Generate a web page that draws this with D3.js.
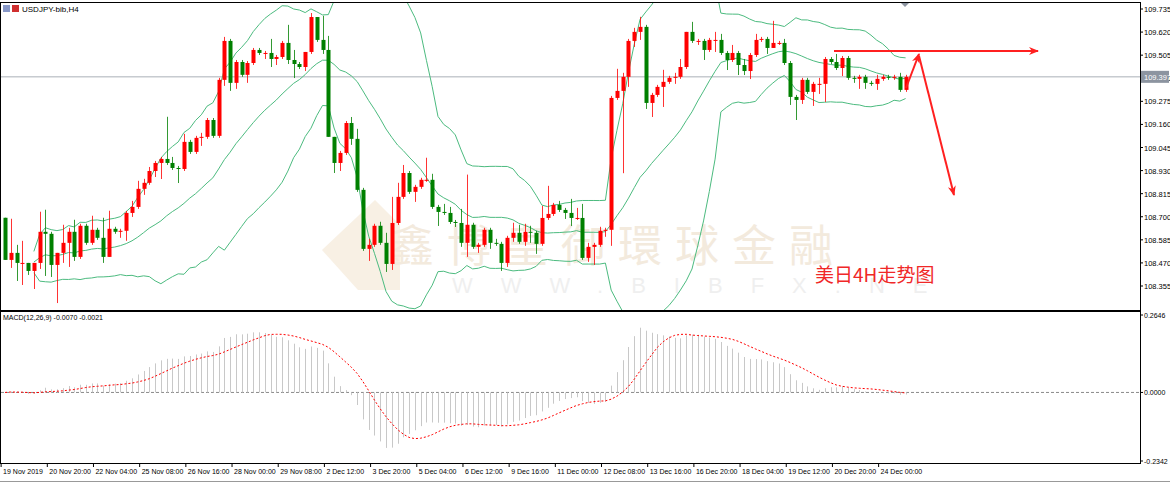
<!DOCTYPE html>
<html>
<head>
<meta charset="utf-8">
<script src="https://cdn.jsdelivr.net/npm/d3@7"></script>
<style>
  body { margin: 0; background: #fff; }
  svg { display: block; font-family: "Liberation Sans", Arial, sans-serif; }
</style>
</head>
<body>
<svg id="chart" width="1170" height="485"></svg>
<script>
// USDJPY H4 closes, first open, wick lengths (pips)
const firstOpen = 108.695;
const closes = [108.485,108.520,108.470,108.470,108.430,108.470,108.625,108.615,108.460,108.520,
  108.570,108.625,108.500,108.655,108.570,108.635,108.595,108.500,108.640,108.625,
  108.630,108.719,108.749,108.839,108.869,108.928,108.968,108.988,108.968,108.943,
  108.938,109.073,109.023,109.093,109.098,109.182,109.103,109.382,109.576,109.367,
  109.471,109.407,109.466,109.531,109.516,109.516,109.486,109.496,109.566,109.481,
  109.461,109.446,109.521,109.695,109.581,109.531,109.098,108.968,109.018,109.167,
  109.088,108.834,108.540,108.560,108.655,108.570,108.465,108.669,108.799,108.918,
  108.824,108.849,108.884,108.884,108.749,108.724,108.719,108.674,108.669,108.570,
  108.660,108.550,108.560,108.635,108.570,108.565,108.470,108.595,108.620,108.575,
  108.625,108.620,108.565,108.694,108.714,108.759,108.734,108.719,108.694,108.694,
  108.495,108.550,108.560,108.630,108.635,109.292,109.327,109.397,109.576,109.621,
  109.646,109.267,109.307,109.347,109.372,109.392,109.397,109.446,109.621,109.576,
  109.576,109.531,109.581,109.581,109.516,109.481,109.516,109.456,109.426,109.506,
  109.581,109.586,109.541,109.566,109.566,109.466,109.297,109.282,109.382,109.322,
  109.362,109.362,109.486,109.471,109.441,109.491,109.392,109.387,109.397,109.367,
  109.362,109.387,109.397,109.392,109.397,109.332,109.397];
const upperWick = [0,17,4,11,0,0,10,11,1,0,9,2,6,1,1,7,1,10,9,1,1,1,3,4,2,2,1,1,21,3,
  1,4,1,1,2,1,1,1,2,1,1,1,1,1,1,1,7,1,1,9,5,1,0,2,0,12,7,0,1,1,
  3,5,1,3,1,2,5,13,7,4,1,1,1,11,3,1,4,3,1,7,25,1,1,1,1,2,1,1,5,4,
  4,3,1,6,14,1,2,1,7,5,7,2,1,2,1,1,11,2,1,2,5,1,1,1,6,1,2,4,0,5,
  1,1,1,4,3,1,4,1,3,1,3,1,1,11,1,2,1,1,1,1,1,3,1,1,4,1,1,1,1,1,
  1,2,1,1,1,2,1];
const lowerWick = [0,4,9,11,2,9,3,21,6,19,5,12,2,1,1,1,1,3,0,1,3,5,2,1,3,1,3,8,1,1,
  7,1,1,1,4,1,1,1,3,4,3,1,4,1,1,3,4,3,1,2,7,1,2,1,1,2,0,5,4,1,
  3,1,1,6,1,1,4,3,1,1,1,5,1,1,1,7,1,1,2,2,7,1,3,1,3,1,4,2,2,1,
  2,5,5,1,1,1,1,3,4,1,1,2,9,1,3,8,1,41,5,3,4,3,7,1,10,1,3,1,1,1,
  2,5,1,6,1,5,1,5,2,4,1,1,3,0,1,1,4,10,2,1,7,5,9,1,1,4,1,2,5,3,
  1,3,1,1,1,1,1];
const priceTicks = [109.735,109.620,109.505,109.390,109.275,109.160,109.045,108.930,108.815,108.700,108.585,108.470,108.355];
const dateLabels = ["19 Nov 2019","20 Nov 20:00","22 Nov 04:00","25 Nov 08:00","26 Nov 16:00","28 Nov 00:00",
  "29 Nov 08:00","2 Dec 12:00","3 Dec 20:00","5 Dec 04:00","6 Dec 12:00","9 Dec 16:00","11 Dec 00:00",
  "12 Dec 08:00","13 Dec 16:00","16 Dec 20:00","18 Dec 04:00","19 Dec 12:00","20 Dec 20:00","24 Dec 00:00"];
const macdTicks = [0.2646, 0.0, -0.2342];
const watermarkChars = ["鑫","博","皇","御","環","球","金","融"];

const svg = d3.select("#chart");
const W = 1140;
const x = d3.scaleLinear().domain([0, closes.length - 1]).range([5, 905.6]);
const y = d3.scaleLinear().domain([108.355, 109.735]).range([286, 9]);
const ym = d3.scaleLinear().domain([-0.2342, 0.2646]).range([461, 315]);

const candles = closes.map((c, i) => {
  const o = i === 0 ? firstOpen : closes[i - 1];
  return { i, o, c, h: Math.max(o, c) + upperWick[i] / 100, l: Math.min(o, c) - lowerWick[i] / 100 };
});

// watermark
const wm = svg.append("g");
wm.append("path").attr("d", "M322,250 L375,200 L400,225 L400,290 L358,290 Z").attr("fill", "#f8f0e4");
wm.selectAll("text.wm").data(watermarkChars).join("text")
  .attr("x", (d, i) => 412 + i * 57).attr("y", 262).attr("text-anchor", "middle")
  .attr("font-family", "Noto Sans CJK TC").attr("font-size", 44).attr("fill", "#f3eadd").text(d => d);
wm.append("text").attr("x", 452).attr("y", 293).attr("font-size", 22).attr("letter-spacing", 28)
  .attr("fill", "#efefef").text("WWW.BIBFX.NE");

// panel frames
svg.append("rect").attr("x", 0.5).attr("y", 2.5).attr("width", W).attr("height", 308).attr("fill", "none").attr("stroke", "#000");
svg.append("rect").attr("x", 0.5).attr("y", 311.5).attr("width", W).attr("height", 152).attr("fill", "none").attr("stroke", "#000");

// current price line
svg.append("line").attr("x1", 1).attr("x2", W).attr("y1", y(109.397)).attr("y2", y(109.397)).attr("stroke", "#aab0b8");

// bollinger bands (20, 2)
const bb = closes.map((c, i) => {
  if (i < 5) return null;
  const win = closes.slice(Math.max(0, i - 19), i + 1);
  const m = d3.mean(win), s = Math.sqrt(d3.mean(win, v => (v - m) ** 2));
  return { i, m, u: m + 2 * s, d: m - 2 * s };
}).filter(Boolean);
svg.append("clipPath").attr("id", "mainclip").append("rect").attr("x", 1).attr("y", 3).attr("width", W - 1).attr("height", 307);
["m", "u", "d"].forEach(k => {
  svg.append("path").datum(bb).attr("clip-path", "url(#mainclip)")
    .attr("d", d3.line().x(d => x(d.i)).y(d => y(d[k])))
    .attr("fill", "none").attr("stroke", "#4cbb7f").attr("stroke-width", 1);
});

// candles
const cg = svg.append("g").attr("clip-path", "url(#mainclip)");
cg.selectAll("line.wick").data(candles).join("line")
  .attr("x1", d => Math.round(x(d.i)) + 0.5).attr("x2", d => Math.round(x(d.i)) + 0.5)
  .attr("y1", d => y(d.h)).attr("y2", d => y(d.l))
  .attr("stroke", d => d.c >= d.o ? "#ff0000" : "#008000").attr("stroke-opacity", 0.8);
cg.selectAll("rect.body").data(candles).join("rect")
  .attr("x", d => Math.round(x(d.i)) - 1.5).attr("width", 4)
  .attr("y", d => y(Math.max(d.o, d.c))).attr("height", d => Math.max(1, Math.abs(y(d.o) - y(d.c))))
  .attr("fill", d => d.c >= d.o ? "#ff0000" : "#008000");

// price axis
const pa = svg.append("g").attr("font-size", 7.5).attr("fill", "#000");
priceTicks.forEach(t => {
  pa.append("line").attr("x1", W).attr("x2", W + 3).attr("y1", y(t)).attr("y2", y(t)).attr("stroke", "#000");
  pa.append("text").attr("x", W + 4).attr("y", y(t) + 3).text(t.toFixed(3));
});
pa.append("rect").attr("x", W + 1).attr("y", y(109.397) - 6).attr("width", 28).attr("height", 12).attr("fill", "#8c94a0");
pa.append("text").attr("x", W + 4).attr("y", y(109.397) + 3).attr("fill", "#fff").text("109.397");
svg.append("path").attr("d", "M901,3 L909,3 L905,7 Z").attr("fill", "#8c94a0");

// title
svg.append("rect").attr("x", 3).attr("y", 5).attr("width", 7).attr("height", 7).attr("fill", "#8898c8");
svg.append("rect").attr("x", 12).attr("y", 5).attr("width", 7).attr("height", 7).attr("fill", "#d03030");
svg.append("text").attr("x", 22).attr("y", 12).attr("font-size", 8).text("USDJPY-bib,H4");

// MACD (12,26,9), signal = SMA9
const ema = (arr, n) => { const k = 2 / (n + 1); let e = arr[0]; return arr.map(v => (e = v * k + e * (1 - k))); };
const e12 = ema(closes, 12), e26 = ema(closes, 26);
const macd = closes.map((c, i) => e12[i] - e26[i]);
const signal = macd.map((v, i) => d3.mean(macd.slice(Math.max(0, i - 8), i + 1)));
svg.append("line").attr("x1", 1).attr("x2", W).attr("y1", ym(0)).attr("y2", ym(0))
  .attr("stroke", "#8a8a8a").attr("stroke-dasharray", "3,2");
svg.selectAll("line.hist").data(macd).join("line")
  .attr("x1", (d, i) => Math.round(x(i)) + 0.5).attr("x2", (d, i) => Math.round(x(i)) + 0.5)
  .attr("y1", ym(0)).attr("y2", d => ym(d)).attr("stroke", "#c8c8c8");
svg.append("path").datum(signal)
  .attr("d", d3.line().x((d, i) => x(i)).y(d => ym(d)))
  .attr("fill", "none").attr("stroke", "#ff0000").attr("stroke-dasharray", "2,2");
svg.append("text").attr("x", 3).attr("y", 320).attr("font-size", 7).text("MACD(12,26,9) -0.0070 -0.0021");
macdTicks.forEach(t => {
  svg.append("line").attr("x1", W).attr("x2", W + 3).attr("y1", ym(t)).attr("y2", ym(t)).attr("stroke", "#000");
  svg.append("text").attr("x", W + 4).attr("y", ym(t) + 3).attr("font-size", 7).text(t.toFixed(4));
});

// date axis
dateLabels.forEach((d, k) => {
  const xi = x(8 * k - 0.5) - 1;
  svg.append("line").attr("x1", xi).attr("x2", xi).attr("y1", 464).attr("y2", 467).attr("stroke", "#000");
  svg.append("text").attr("x", xi + 2).attr("y", 474).attr("font-size", 7).text(d);
});
svg.append("line").attr("x1", 0).attr("x2", 1170).attr("y1", 481.5).attr("y2", 481.5).attr("stroke", "#999");

// forecast arrows
const defs = svg.append("defs");
defs.append("marker").attr("id", "ah").attr("viewBox", "0 0 10 10").attr("refX", 9).attr("refY", 5)
  .attr("markerWidth", 5).attr("markerHeight", 5).attr("orient", "auto")
  .append("path").attr("d", "M0,1 L10,5 L0,9 L3,5 Z").attr("fill", "#ff2020");
const arr = svg.append("g").attr("stroke", "#ff2020").attr("stroke-width", 2).attr("fill", "none");
arr.append("line").attr("x1", 834).attr("y1", 51).attr("x2", 1038).attr("y2", 51).attr("marker-end", "url(#ah)");
arr.append("line").attr("x1", 906).attr("y1", 88).attr("x2", 919).attr("y2", 54).attr("marker-end", "url(#ah)");
arr.append("line").attr("x1", 919).attr("y1", 56).attr("x2", 954).attr("y2", 195).attr("marker-end", "url(#ah)");
svg.append("text").attr("x", 815).attr("y", 282).attr("font-family", "Noto Sans CJK SC").attr("font-size", 19)
  .attr("fill", "#f02828").text("美日4H走势图");
</script>
</body>
</html>
